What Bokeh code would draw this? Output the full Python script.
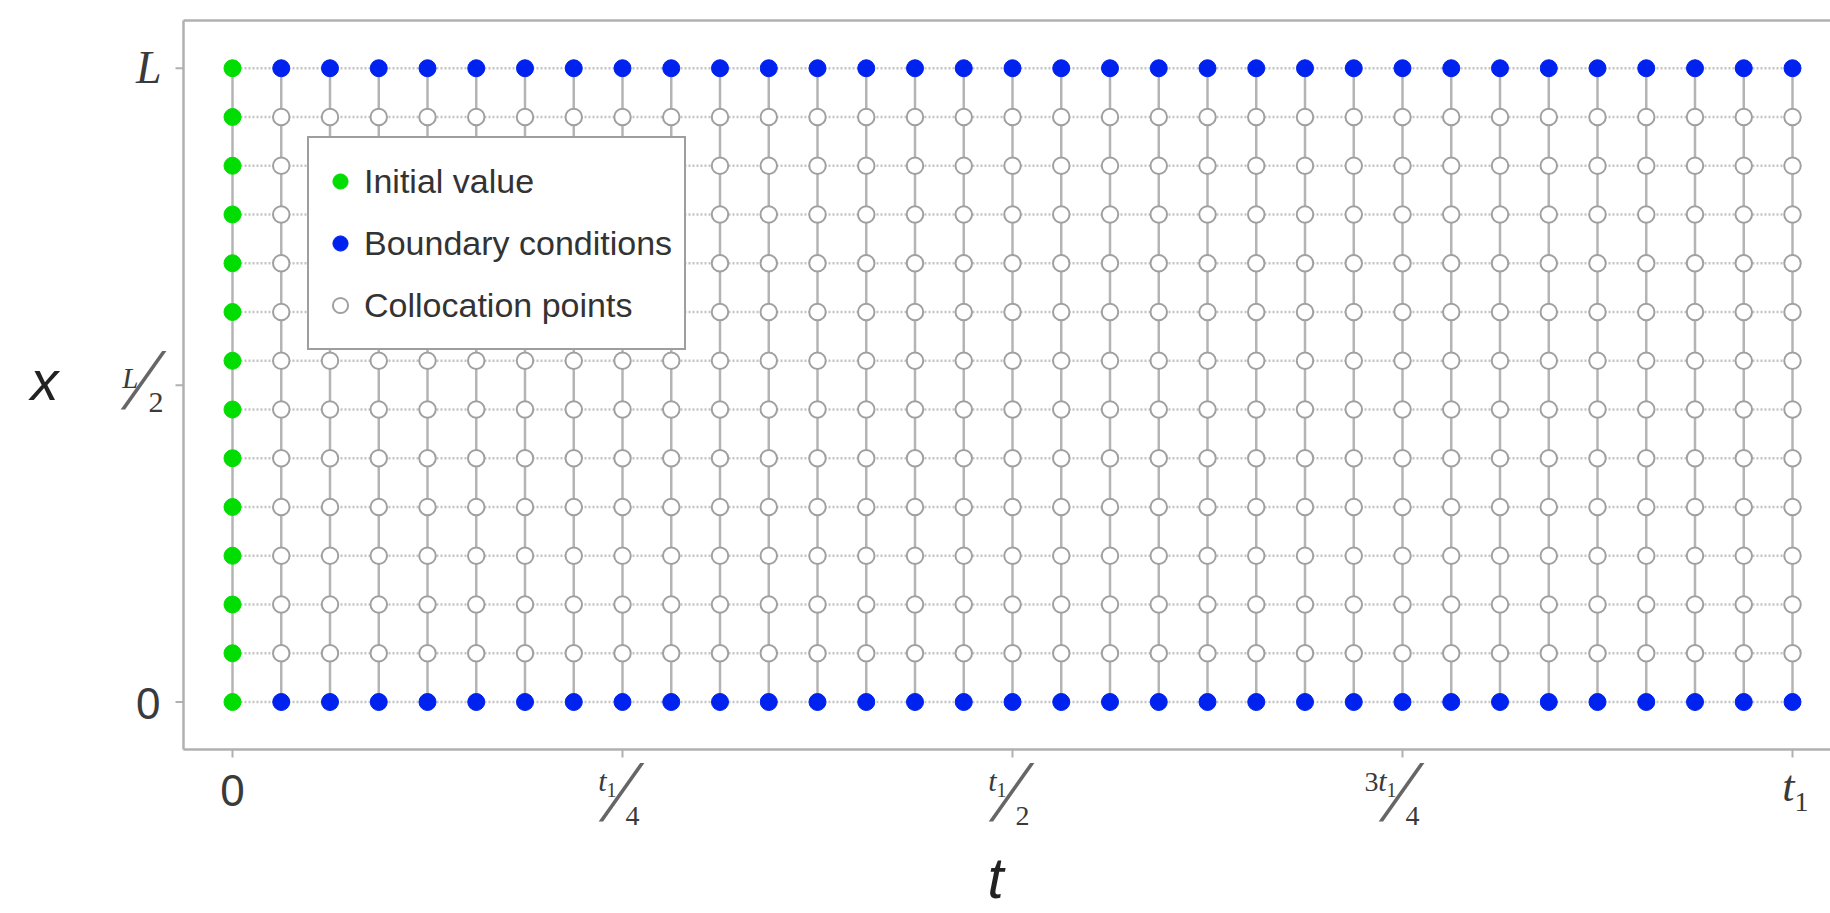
from bokeh.plotting import figure
from bokeh.models import Range1d, Label, Legend, LegendItem, ColumnDataSource
from bokeh.embed import file_html
from bokeh.resources import INLINE

# ---------------- data ----------------
# time grid (step index, t1 = 32 steps) and space grid (step index, L = 13 steps)
t_grid = [0, 1, 2, 3, 4, 5, 6, 7, 8, 9, 10, 11, 12, 13, 14, 15, 16,
          17, 18, 19, 20, 21, 22, 23, 24, 25, 26, 27, 28, 29, 30, 31, 32]
x_grid = [0, 1, 2, 3, 4, 5, 6, 7, 8, 9, 10, 11, 12, 13]

t_ticks = [0, 8, 16, 24, 32]          # 0, t1/4, t1/2, 3t1/4, t1
x_ticks = [0, 6.5, 13]                # 0, L/2, L

series_names = ["Initial value", "Boundary conditions", "Collocation points"]
series_colors = ["#00dd00", "#0022ee", "#ffffff"]

# classify grid points
init_t, init_x, bnd_t, bnd_x, col_t, col_x = [], [], [], [], [], []
for t in t_grid:
    for x in x_grid:
        if t == t_grid[0]:
            init_t.append(t); init_x.append(x)
        elif x == x_grid[0] or x == x_grid[-1]:
            bnd_t.append(t); bnd_x.append(x)
        else:
            col_t.append(t); col_x.append(x)

# ---------------- layout constants ----------------
W, H = 1830, 912
PX = 48.75                  # pixels per grid step (both directions)
X0_PX, Y0_PX = 232, 701.5   # pixel position of (t=0, x=0)
X_START = -X0_PX / PX
X_END = X_START + W / PX
Y_END = (Y0_PX) / PX        # top of canvas
Y_START = Y_END - H / PX

# panel (frame) edges in data units
FL = -(X0_PX - 183) / PX
FB = -(749 - Y0_PX) / PX
FT = x_grid[-1] + (Y0_PX - x_grid[-1] * PX - 20) / PX
TICK = 8 / PX

p = figure(width=W, height=H,
           x_range=Range1d(X_START, X_END), y_range=Range1d(Y_START, Y_END),
           output_backend="svg", toolbar_location=None,
           x_axis_location=None, y_axis_location=None,
           min_border_left=0, min_border_right=0,
           min_border_top=0, min_border_bottom=0)
p.outline_line_color = None
p.grid.grid_line_color = None
p.background_fill_color = "white"
p.border_fill_color = "white"

FRAME = "#b0b0b0"

# panel border (left, top, bottom) and ticks
fsrc = ColumnDataSource(dict(x0=[FL, FL, FL], y0=[FB, FT, FB],
                             x1=[FL, X_END, X_END], y1=[FT, FT, FB]))
p.segment("x0", "y0", "x1", "y1", source=fsrc, line_color=FRAME, line_width=2.5)
xt_src = ColumnDataSource(dict(x0=t_ticks, y0=[FB] * len(t_ticks),
                               x1=t_ticks, y1=[FB - TICK] * len(t_ticks)))
yt_src = ColumnDataSource(dict(x0=[FL] * len(x_ticks), y0=x_ticks,
                               x1=[FL - TICK] * len(x_ticks), y1=x_ticks))
p.segment("x0", "y0", "x1", "y1", source=xt_src, line_color=FRAME, line_width=2)
p.segment("x0", "y0", "x1", "y1", source=yt_src, line_color=FRAME, line_width=2)

# grid segments through the points
vsrc = ColumnDataSource(dict(x0=t_grid, y0=[x_grid[0]] * len(t_grid),
                             x1=t_grid, y1=[x_grid[-1]] * len(t_grid)))
hsrc = ColumnDataSource(dict(x0=[t_grid[0]] * len(x_grid), y0=x_grid,
                             x1=[t_grid[-1]] * len(x_grid), y1=x_grid))
p.segment("x0", "y0", "x1", "y1", source=vsrc, line_color="#b4b4b4", line_width=2.5)
p.segment("x0", "y0", "x1", "y1", source=hsrc, line_color="#c4c4c4",
          line_width=2.5, line_dash="2 2")

r_col = p.scatter(col_t, col_x, size=16.5, marker="circle", fill_color=series_colors[2],
                  line_color="#a0a0a0", line_width=2)
r_bnd = p.scatter(bnd_t, bnd_x, size=17, marker="circle", fill_color=series_colors[1],
                  line_color=series_colors[1], line_width=1)
r_init = p.scatter(init_t, init_x, size=17, marker="circle", fill_color=series_colors[0],
                   line_color=series_colors[0], line_width=1)

legend = Legend(items=[LegendItem(label=series_names[0], renderers=[r_init]),
                       LegendItem(label=series_names[1], renderers=[r_bnd]),
                       LegendItem(label=series_names[2], renderers=[r_col])],
                location=(307, H - 350), orientation="vertical",
                border_line_color="#3d3d3d", border_line_width=2.5,
                background_fill_color="white", background_fill_alpha=1.0,
                label_text_font="Liberation Sans", label_text_font_size="34px",
                label_text_color="#333333",
                glyph_width=38, glyph_height=62, label_height=62,
                spacing=-2, padding=12, label_standoff=5, margin=0)
p.add_layout(legend, "center")

# ---------------- tick labels & titles (real text) ----------------
TICK_C = "#3a3a3a"
K = 0.39   # measured shift of Bokeh's alphabetic baseline, in em

def txt(s, x, y, dx, dy, size, font="Liberation Serif", style="normal",
        align="left", color=TICK_C):
    p.add_layout(Label(x=x, y=y, x_offset=dx, y_offset=dy + K * size, text=s,
                       text_font=font, text_font_size=f"{size}px",
                       text_font_style=style, text_align=align,
                       text_baseline="alphabetic", text_color=color))

SL = 88          # fraction slash size
SL_C = "#666666"

# x axis: 0, t1/4, t1/2, 3t1/4, t1
txt("0", t_ticks[0], FB, 0, -58, 44, font="Liberation Sans", align="center")
for tv, num_digit, den in [(t_ticks[1], "", "4"), (t_ticks[2], "", "2"),
                           (t_ticks[3], "3", "4")]:
    txt("\u2044", tv, FB, -1, -76, SL, align="center", color=SL_C)
    if num_digit:
        txt(num_digit, tv, FB, -24, -43, 28, align="right")
    txt("t", tv, FB, -16, -43, 30, style="italic", align="right")
    txt("1", tv, FB, -16, -48, 20, align="left")
    txt(den, tv, FB, 3, -77, 28, align="left")
txt("t", t_ticks[4], FB, 2, -54, 44, style="italic", align="right")
txt("1", t_ticks[4], FB, 2, -63, 28, align="left")

# y axis: 0, L/2, L
txt("0", FL, x_ticks[0], -23, -18.5, 44, font="Liberation Sans", align="right")
txt("\u2044", FL, x_ticks[1], -40, -29, SL, align="center", color=SL_C)
txt("L", FL, x_ticks[1], -45, -4, 29, style="italic", align="right")
txt("2", FL, x_ticks[1], -35, -29, 30, align="left")
txt("L", FL, x_ticks[2], -22, -17, 46, style="italic", align="right")

# axis titles
txt("x", FL, x_ticks[1], -139, -17, 56, font="Liberation Sans", style="italic",
    align="center", color="#222222")
txt("t", t_ticks[2], FB, -17, -151, 58, font="Liberation Sans", style="italic",
    align="center", color="#222222")

open("out.html", "w").write(file_html(p, INLINE))
